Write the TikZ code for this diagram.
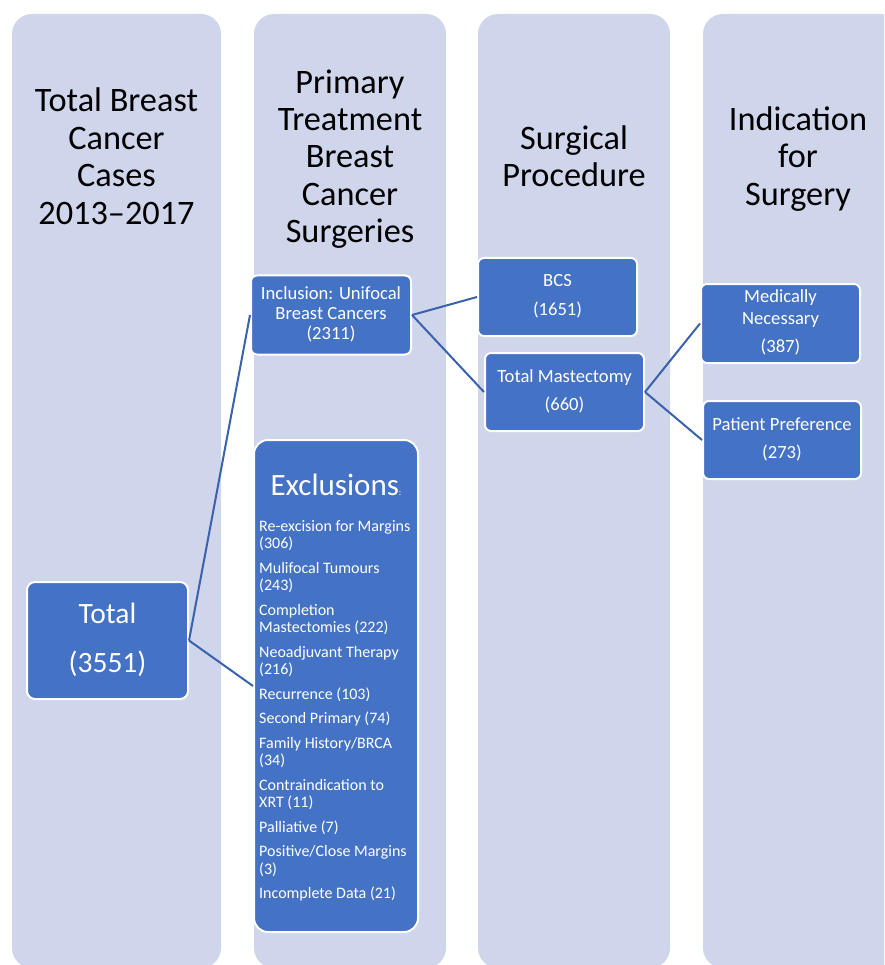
\documentclass[tikz,border=0pt]{standalone}
\usepackage{fontspec}
\setmainfont{Carlito}
\definecolor{colbg}{HTML}{CFD5EA}
\definecolor{boxblue}{HTML}{4472C4}
\definecolor{linkblue}{HTML}{3A61AC}
\begin{document}
\begin{tikzpicture}[x=1pt,y=-1pt,
  column/.style={fill=colbg, rounded corners=20pt},
  header/.style={align=center, inner sep=0pt, font=\fontsize{34.3}{37.4}\selectfont},
  box/.style={draw=white, line width=2pt, fill=boxblue, text=white,
    rounded corners=6pt, align=center, inner sep=0pt,
    font=\fontsize{18.6}{20}\selectfont},
  conn/.style={draw=linkblue, line width=2pt},
  item/.style={anchor=base west, inner sep=0pt, text=white,
    font=\fontsize{16}{17.5}\selectfont}]
\useasboundingbox (0,0) rectangle (884,965);
\clip (0,0) rectangle (884,965);

% four stage columns
\fill[column] (12,14) rectangle (221,968);
\fill[column] (254,14) rectangle (446,968);
\fill[column] (478,14) rectangle (670,968);
\fill[column] (703,14) rectangle (900,968);

% column headings
\node[header] (h1) at (116.5,160.5) {\strut Total Breast\\\strut Cancer\\\strut Cases\\\strut 2013--2017};
\node[header] (h2) at (350,160.5) {\strut Primary\\\strut Treatment\\\strut Breast\\\strut Cancer\\\strut Surgeries};
\node[header] (h3) at (574,160.5) {\strut Surgical\\\strut Procedure};
\node[header] (h4) at (798,160.5) {\strut Indication\\\strut for\\\strut Surgery};

% case boxes
\node[box, rounded corners=8pt, minimum width=161pt, minimum height=117pt,
  font=\fontsize{29.5}{35}\selectfont] (total) at (107.5,640.5)
  {\strut Total\\[14pt]\strut (3551)};
\node[box, minimum width=160pt, minimum height=79pt] (incl) at (331,315)
  {\strut Inclusion: Unifocal\\\strut Breast Cancers\\\strut (2311)};
\node[box, rounded corners=14pt, minimum width=164pt, minimum height=492pt] (excl) at (336,686) {};
\node[box, minimum width=159pt, minimum height=78pt] (bcs) at (557.5,297)
  {\strut BCS\\[9pt]\strut (1651)};
\node[box, minimum width=159pt, minimum height=78pt] (tm) at (564.5,392)
  {\strut Total Mastectomy\\[8pt]\strut (660)};
\node[box, minimum width=159pt, minimum height=79pt,
  font=\fontsize{18.6}{22}\selectfont] (mn) at (780.5,323.5)
  {\strut Medically\\\strut Necessary\\[6pt]\strut (387)};
\node[box, minimum width=158pt, minimum height=78pt] (pp) at (782,440)
  {\strut Patient Preference\\[8pt]\strut (273)};

% exclusion list
\node[anchor=base, inner sep=0pt, text=white] (excltitle) at (336,495)
  {{\fontsize{31}{36}\selectfont Exclusions}{\fontsize{9}{10}\selectfont :}};
\foreach \yy/\tx [count=\k] in {
  531/{Re-excision for Margins}, 548.5/{(306)},
  573/{Mulifocal Tumours}, 590.5/{(243)},
  615/{Completion}, 632.5/{Mastectomies (222)},
  657/{Neoadjuvant Therapy}, 674.5/{(216)},
  699/{Recurrence (103)},
  723.5/{Second Primary (74)},
  748/{Family History/BRCA}, 765.5/{(34)},
  790/{Contraindication to}, 807.5/{XRT (11)},
  832/{Palliative (7)},
  856.5/{Positive/Close Margins}, 874/{(3)},
  898.5/{Incomplete Data (21)}}
  \node[item, name=ex\k] at (259,\yy) {\tx};

% connectors
\draw[conn] (total.east) -- (incl.west);
\draw[conn] (total.east) -- (excl.west);
\draw[conn] (incl.east) -- (bcs.west);
\draw[conn] (incl.east) -- (tm.west);
\draw[conn] (tm.east) -- (mn.west);
\draw[conn] (tm.east) -- (pp.west);
\end{tikzpicture}
\end{document}
